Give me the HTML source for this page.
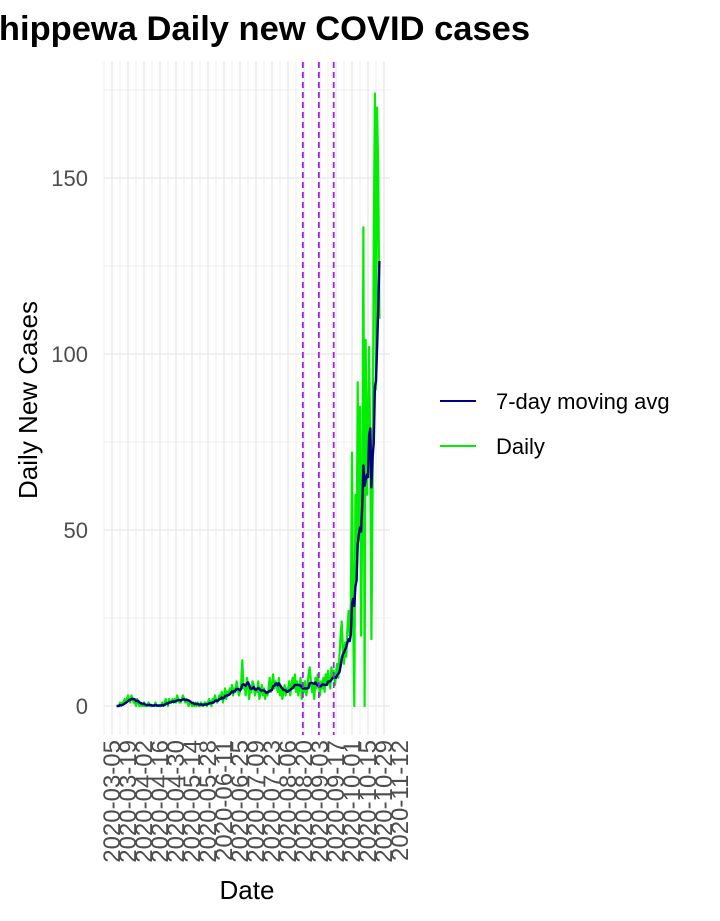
<!DOCTYPE html>
<html><head><meta charset="utf-8">
<style>
body{margin:0;background:#fff;width:720px;height:921px;overflow:hidden;font-family:"Liberation Sans",sans-serif}
svg{display:block}
</style></head><body>
<svg id="chart" width="720" height="921" xmlns="http://www.w3.org/2000/svg">
<text x="-26" y="40" font-size="34.5" font-weight="bold" fill="#000">Chippewa Daily new COVID cases</text>
<g id="grid"></g>
<g id="marks"></g>
<g id="axes"></g>
<text transform="translate(37,400) rotate(-90)" text-anchor="middle" font-size="26" fill="#000">Daily New Cases</text>
<text x="247" y="899" text-anchor="middle" font-size="26" fill="#000">Date</text>
<g>
<g>
<line x1="440" y1="401" x2="476" y2="401" stroke="#000080" stroke-width="2"/>
<text x="496" y="409" font-size="22" fill="#000">7-day moving avg</text></g>
<g>
<line x1="440" y1="446" x2="476" y2="446" stroke="#00ee00" stroke-width="2"/>
<text x="496" y="454" font-size="22" fill="#000">Daily</text></g>
</g>
</svg>
<script>
const startDay = 4; // days after 2020-03-05
const daily = [
0,0,0,1,0,1,1,2,1,2,
3,2,1,3,2,1,1,0,2,1,
0,1,0,0,1,0,0,0,1,0,
0,0,0,0,1,0,0,0,0,0,
1,0,1,2,1,0,2,1,1,2,
1,2,1,3,2,1,1,2,3,2,
1,2,1,0,1,1,0,1,0,1,
0,1,0,0,1,0,0,1,1,0,
1,2,1,0,2,1,3,2,1,2,
3,2,4,1,3,5,2,4,3,5,
4,6,3,5,4,7,5,3,4,6,
13,5,6,3,8,6,2,5,4,7,
6,3,5,4,7,2,4,6,3,5,
2,4,3,5,8,4,6,9,5,7,
6,4,8,3,5,2,4,6,3,5,
4,7,3,6,8,5,9,4,7,3,
5,8,2,6,4,7,3,5,9,11,
7,4,6,2,8,5,9,6,3,7,
5,8,4,9,6,10,7,5,11,8,
10,6,9,12,8,14,20,24,16,12,
18,14,22,27,20,30,72,28,0,60,
40,92,50,85,20,55,136,0,104,60,
80,102,70,19,60,131,174,90,170,150,110];
const yTicks = [0,50,100,150];
const xTickLabels = ["2020-03-05","2020-03-19","2020-04-02","2020-04-16","2020-04-30","2020-05-14","2020-05-28","2020-06-11","2020-06-25","2020-07-09","2020-07-23","2020-08-06","2020-08-20","2020-09-03","2020-09-17","2020-10-01","2020-10-15","2020-10-29","2020-11-12"];
const eventDays = [167,181,194];

const NS="http://www.w3.org/2000/svg";
const X0=112, PXD=16/14, Y0=706, PYU=3.52;
const xs=d=>X0+d*PXD, ys=v=>Y0-v*PYU;
const L=104, R=390, T=62, B=735;
function mk(tag,attrs,parent){const e=document.createElementNS(NS,tag);for(const k in attrs)e.setAttribute(k,attrs[k]);parent.appendChild(e);return e;}
const grid=document.getElementById('grid'), marks=document.getElementById('marks'), axes=document.getElementById('axes');
for(let v=-25;v<=175;v+=25){const y=ys(v);if(y<T||y>B)continue;
 const major=v%50===0;
 const l=mk('line',{x1:L,x2:R,y1:y,y2:y,stroke:'#ebebeb','stroke-width':major?1.6:0.8},grid);
 
 }
for(let d=-7;d<=238;d+=7){const x=xs(d);
 const major=d%14===0;
 const l=mk('line',{x1:x,x2:x,y1:T,y2:B,stroke:'#ebebeb','stroke-width':major?1.6:0.8},grid);
 
 }
yTicks.forEach(v=>{const t=mk('text',{x:88,y:ys(v)+8,'text-anchor':'end','font-size':22,fill:'#4d4d4d'},axes);t.textContent=v;
 
 });
xTickLabels.forEach((s,i)=>{const x=xs(i*14);
 const t=mk('text',{transform:`translate(${x+8},740) rotate(-90)`,'text-anchor':'end','font-size':24,fill:'#4d4d4d'},axes);t.textContent=s;
 
 });
let pd=daily.map((v,i)=>xs(startDay+i).toFixed(1)+','+ys(v).toFixed(1)).join(' ');
const dl=mk('polyline',{points:pd,fill:'none',stroke:'#00ee00','stroke-width':2.2,'stroke-linejoin':'round'},marks);


const ma=daily.map((v,i)=>{const a=daily.slice(Math.max(0,i-6),i+1);return a.reduce((s,x)=>s+x,0)/a.length;});
let pm=ma.map((v,i)=>xs(startDay+i).toFixed(1)+','+ys(v).toFixed(1)).join(' ');
const ml=mk('polyline',{points:pm,fill:'none',stroke:'#000080','stroke-width':2.4,'stroke-linejoin':'round'},marks);


eventDays.forEach(d=>{const x=xs(d);
 const l=mk('line',{x1:x,x2:x,y1:T,y2:B,stroke:'#a020f0','stroke-width':1.8,'stroke-dasharray':'6,4'},marks);
 
 });
</script>
</body></html>
